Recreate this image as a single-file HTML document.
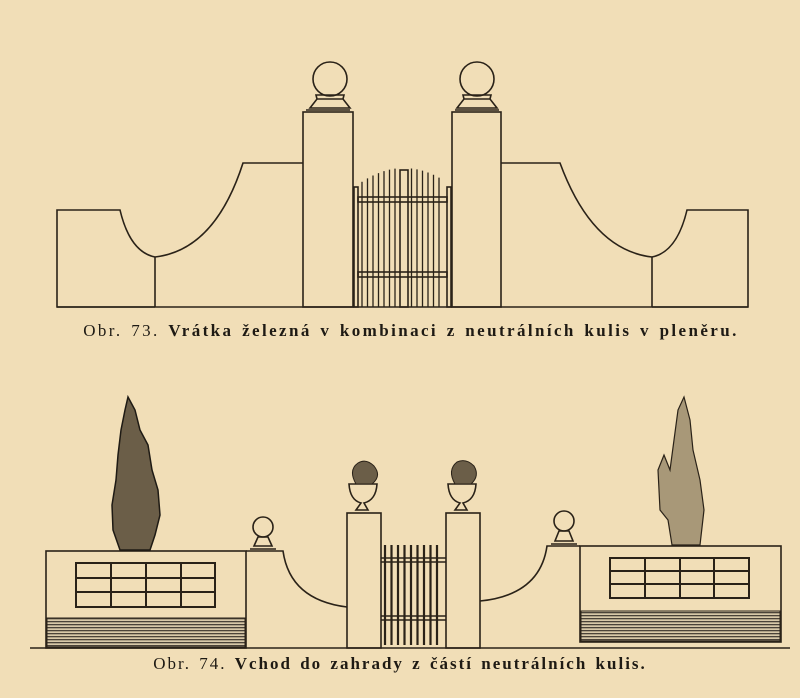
<!DOCTYPE html>
<html><head><meta charset="utf-8">
<style>
html,body{margin:0;padding:0;background:#f1deb7;}
svg{display:block}
text{font-family:"Liberation Serif",serif;fill:#1e1a14}
</style></head><body>
<svg id="s" width="800" height="698" viewBox="0 0 800 698" xmlns="http://www.w3.org/2000/svg">
<defs>
<pattern id="st" width="6" height="3" patternUnits="userSpaceOnUse">
<rect width="6" height="3" fill="#d8c8a8"/><rect y="0" width="6" height="1.3" fill="#4a4238"/>
</pattern>
</defs>
<rect width="800" height="698" fill="#f1deb7"/>
<g fill="none" stroke="#2a2218" stroke-width="1.6" id="g">
<line x1="57" y1="307" x2="748" y2="307"/>
<path d="M155 307 L57 307 L57 210 L120 210 Q130 252 155 257 Q215 250 243 163 L303 163"/>
<line x1="155" y1="257" x2="155" y2="307"/>
<path d="M652 307 L748 307 L748 210 L687 210 Q677 252 652 257 Q592 250 560 163 L501 163"/>
<line x1="652" y1="257" x2="652" y2="307"/>
<rect x="303" y="112" width="50" height="195"/>
<rect x="452" y="112" width="49" height="195"/>
<circle cx="330" cy="79" r="17"/>
<path d="M316 95 L344 95 L343 99 L317 99 Z M317 99 L343 99 L350 108 L310 108 Z"/>
<line x1="306" y1="110" x2="350" y2="110"/>
<circle cx="477" cy="79" r="17"/>
<path d="M463 95 L491 95 L490 99 L464 99 Z M464 99 L490 99 L497 108 L457 108 Z"/>
<line x1="455" y1="110" x2="499" y2="110"/>
<rect x="354" y="187" width="4" height="120"/>
<rect x="447" y="187" width="4" height="120"/>
<rect x="400" y="170" width="8" height="137"/>
<rect x="358" y="197" width="89" height="5"/>
<rect x="358" y="272" width="89" height="5"/>
<line x1="30" y1="648" x2="790" y2="648"/>
<rect x="46" y="551" width="200" height="97"/>
<rect x="580" y="546" width="201" height="96"/>
<path d="M246 551 L283 551 Q290 600 347 607"/>
<path d="M580 546 L547 546 Q540 595 480 601"/>
<rect x="347" y="513" width="34" height="135"/>
<rect x="446" y="513" width="34" height="135"/>
<circle cx="263" cy="527" r="10"/>
<path d="M258 537 L268 537 L272 546 L254 546 Z"/><line x1="250" y1="549" x2="276" y2="549"/>
<circle cx="564" cy="521" r="10"/>
<path d="M559 531 L569 531 L573 541 L555 541 Z"/><line x1="551" y1="544" x2="577" y2="544"/>
<path d="M349 484 L377 484 Q376 500 364 503 L368 510 L356 510 L361 503 Q350 500 349 484 Z"/>
<path d="M448 484 L476 484 Q475 500 463 503 L467 510 L455 510 L460 503 Q449 500 448 484 Z"/>
<line x1="381" y1="558" x2="446" y2="558"/><line x1="381" y1="562" x2="446" y2="562"/>
<line x1="381" y1="616" x2="446" y2="616"/><line x1="381" y1="620" x2="446" y2="620"/>
</g>
<rect x="47" y="618" width="198" height="29" fill="url(#st)" stroke="#2a2218"/>
<rect x="581" y="611" width="199" height="30" fill="url(#st)" stroke="#2a2218"/>
<g stroke="#2a2218" stroke-width="2" fill="none">
<rect x="76" y="563" width="139" height="44"/>
<line x1="76" y1="578" x2="215" y2="578"/><line x1="76" y1="592" x2="215" y2="592"/>
<line x1="111" y1="563" x2="111" y2="607"/><line x1="146" y1="563" x2="146" y2="607"/><line x1="181" y1="563" x2="181" y2="607"/>
<rect x="610" y="558" width="139" height="40"/>
<line x1="610" y1="571" x2="749" y2="571"/><line x1="610" y1="584" x2="749" y2="584"/>
<line x1="645" y1="558" x2="645" y2="598"/><line x1="680" y1="558" x2="680" y2="598"/><line x1="714" y1="558" x2="714" y2="598"/>
</g>
<path d="M128 397 L135 410 L140 430 L148 445 L152 470 L158 490 L160 515 L155 535 L150 550 L120 550 L113 530 L112 505 L116 480 L118 455 L121 430 L125 410 Z" fill="#6b5e48" stroke="#1e1a14" stroke-width="1.5"/>
<path d="M684 397 L690 420 L693 450 L700 480 L704 510 L700 545 L672 545 L668 520 L660 510 L658 470 L664 455 L670 470 L674 440 L678 410 Z" fill="#a89878" stroke="#2a2218" stroke-width="1.2"/>
<path d="M356 484 Q348 470 358 463 Q366 458 374 466 Q382 476 372 484 Z" fill="#6b5e48" stroke="#2a2218"/>
<path d="M455 484 Q447 470 457 462 Q466 458 474 466 Q480 476 471 484 Z" fill="#6b5e48" stroke="#2a2218"/>
<text x="411" y="336" text-anchor="middle" font-size="17" letter-spacing="2.4" word-spacing="2">Obr. 73. <tspan font-weight="bold">Vrátka železná v kombinaci z neutrálních kulis v pleněru.</tspan></text>
<text x="400" y="669" text-anchor="middle" font-size="17" letter-spacing="2" word-spacing="2">Obr. 74. <tspan font-weight="bold">Vchod do zahrady z částí neutrálních kulis.</tspan></text>
</svg>
<script>
var g=document.getElementById('g'),ns='http://www.w3.org/2000/svg';
function L(x1,y1,x2,y2,w){var l=document.createElementNS(ns,'line');l.setAttribute('x1',x1);l.setAttribute('y1',y1);l.setAttribute('x2',x2);l.setAttribute('y2',y2);if(w)l.setAttribute('stroke-width',w);g.appendChild(l);}
for(var x=362;x<=444;x+=5.5){if(x>398&&x<410)continue;var d=Math.abs(x-404)/48;L(x,186-18*(1-d*d),x,307,1.3);}
for(var x=385;x<=443;x+=6.5){L(x,545,x,645,2.2);}
</script>
</body></html>
